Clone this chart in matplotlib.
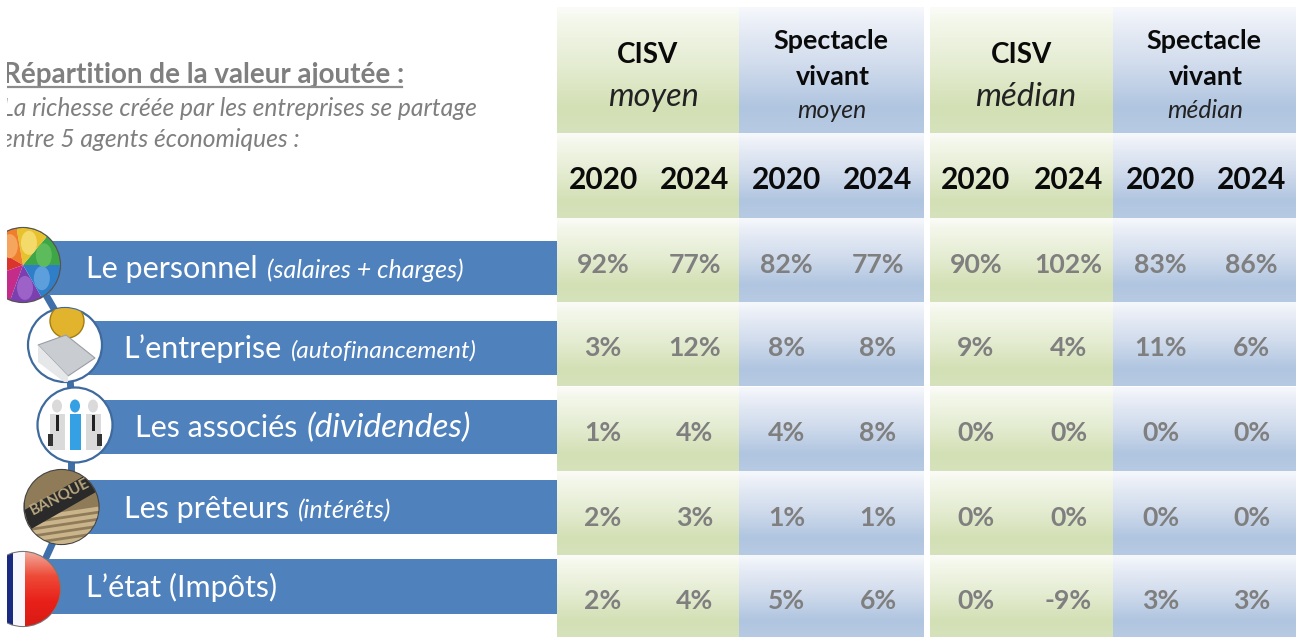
import numpy as np
import matplotlib
matplotlib.use("Agg")
import matplotlib.pyplot as plt
from matplotlib.colors import LinearSegmentedColormap
from matplotlib.patches import Circle, Rectangle, Wedge, Polygon, Ellipse

plt.rcParams['font.family'] = ['Lato', 'DejaVu Sans']

years = ["2020", "2024"]
personnel = ["92%", "77%", "82%", "77%", "90%", "102%", "83%", "86%"]
entreprise = ["3%", "12%", "8%", "8%", "9%", "4%", "11%", "6%"]
associes = ["1%", "4%", "4%", "8%", "0%", "0%", "0%", "0%"]
preteurs = ["2%", "3%", "1%", "1%", "0%", "0%", "0%", "0%"]
etat = ["2%", "4%", "5%", "6%", "0%", "-9%", "3%", "3%"]
rows = [personnel, entreprise, associes, preteurs, etat]
agents = [("Le personnel", "(salaires + charges)"),
          ("L\u2019entreprise", "(autofinancement)"),
          ("Les associés", "(dividendes)"),
          ("Les prêteurs", "(intérêts)"),
          ("L\u2019état (Impôts)", "")]

W, H = 1296, 637
fig = plt.figure(figsize=(W / 100, H / 100), dpi=100, facecolor="white")
ax = fig.add_axes([0, 0, 1, 1])
ax.set_axis_off()
ax.set_xlim(0, W)
ax.set_ylim(H, 0)

GREY, DARK, BLUE = "#7F7F7F", "#0A0A0A", "#4F81BD"
cm_g = LinearSegmentedColormap.from_list("g", [(0, "#FBFCF8"), (.12, "#F3F7EA"), (.5, "#E3EBCF"), (.8, "#D3E0B5"), (1, "#D6E2BB")])
cm_b = LinearSegmentedColormap.from_list("b", [(0, "#F6F8FC"), (.12, "#EBEFF7"), (.5, "#CDD9EB"), (.8, "#B0C5E0"), (1, "#B7CAE3")])
grad = np.linspace(0, 1, 128).reshape(-1, 1)

bands = [(8, 133.5), (134, 218.5), (219, 302.5), (303, 386.5), (387, 471), (471.5, 555), (555.5, 637)]
panels = [(557, 739, cm_g), (739, 924, cm_b), (930, 1113, cm_g), (1113, 1296, cm_b)]
for y0, y1 in bands:
    for x0, x1, cm in panels:
        ax.imshow(grad, cmap=cm, vmin=0, vmax=1, extent=(x0, x1, y1, y0), aspect="auto", zorder=1, interpolation="bilinear")

def T(x, y, s, size, weight="normal", style="normal", color=DARK, ha="center", z=6):
    return ax.text(x, y, s, fontsize=size, fontweight=weight, fontstyle=style, color=color, ha=ha, va="baseline", zorder=z)

for cx, cy, lab in [(648, 63, "CISV"), (1022, 63, "CISV")]:
    T(cx, cy, lab, 20, "bold")
T(653, 106, "moyen", 23.4, style="italic", color="#222222")
T(1026, 106, "médian", 23.8, style="italic", color="#222222")
for cx, lab in [(832, "moyen"), (1205, "médian")]:
    T(cx - 1, 49, "Spectacle", 19.4, "bold")
    T(cx + 1, 85, "vivant", 19.4, "bold")
    T(cx, 117.5, lab, 17.8, style="italic", color="#222222")

col_x = [603, 694.5, 786.5, 878, 976, 1068.5, 1160.5, 1251.5]
for i, cx in enumerate(col_x):
    T(cx, 189, years[i % 2], 21.5, "bold")

row_base = [273, 356, 441, 526, 609]
for base, vals in zip(row_base, rows):
    for cx, v in zip(col_x, vals):
        T(cx, base, v, 19.2, "bold", color=GREY)

T(3, 83, "Répartition de la valeur ajoutée :", 20, "bold", color=GREY, ha="left")
ax.plot([7, 402], [87, 87], color="#8C8C8C", lw=1.6, zorder=6)
T(2, 116, "La richesse créée par les entreprises se partage", 17.7, style="italic", color=GREY, ha="left")
T(1, 147, "entre 5 agents économiques :", 17.7, style="italic", color=GREY, ha="left")

for (xa, ya, xb, yb) in [(46, 295, 57, 314), (70, 378, 71, 392), (71, 458, 71, 476), (54, 540, 44, 562)]:
    ax.plot([xa, xb], [ya, yb], color="#3F6FA8", lw=5, solid_capstyle="butt", zorder=2)

bars = [(241, 295), (320.5, 374.5), (400, 454), (479.5, 534), (559, 614)]
label_x = [86, 123.5, 135, 124, 86]
label_base = [278, 358, 437, 518, 597]
main_size = 22
sub_sizes = [18, 17.6, 24, 18.3, 18]
circle_x = [23, 65, 75, 61.5, 23]
fig.canvas.draw()
rend = fig.canvas.get_renderer()
for (y0, y1), lx, lb, (main, sub), ss, cx in zip(bars, label_x, label_base, agents, sub_sizes, circle_x):
    ax.add_patch(Rectangle((cx, y0), 557 - cx, y1 - y0, fc=BLUE, ec="none", zorder=3))
    m = T(lx, lb, main, main_size, color="white", ha="left")
    if sub:
        ext = m.get_window_extent(rend)
        T(ext.x1 + 9, lb, sub, ss, style="italic", color="white", ha="left")

def disc(cx, cy, r, edge="#3E6A9E"):
    c = Circle((cx, cy), r, fc="white", ec=edge, lw=1.6, zorder=4)
    ax.add_patch(c)
    return c

def clipped(a, c):
    a.set_zorder(5)
    ax.add_patch(a)
    a.set_clip_path(c)

# personnel: colourful crowd
px, py = 23, 265
c = disc(px, py, 37, "#555555")
for a0, a1, col in [(0, 50, "#3FA648"), (50, 100, "#E8C22E"), (100, 150, "#EF7F2A"), (150, 200, "#D9352C"),
                    (200, 250, "#C42C8A"), (250, 300, "#7B3FB0"), (300, 360, "#2F7FC8")]:
    clipped(Wedge((px, py), 37, -a1, -a0, fc=col, ec="none"), c)
for a0, col in [(-25, "#5DBB5C"), (-75, "#F3DA6A"), (-125, "#F5A55E"), (85, "#9C62C8"), (35, "#5C9FDC")]:
    rad = np.deg2rad(a0)
    clipped(Ellipse((px + 23 * np.cos(rad), py + 23 * np.sin(rad)), 16, 24, fc=col, ec="none"), c)

# entreprise: coin and building
qx, qy = 65, 345
c = disc(qx, qy, 37)
clipped(Circle((qx + 2, qy - 24), 17, fc="#E2B32C", ec="#A57C12", lw=1), c)
clipped(Polygon([(qx - 27, qy), (qx + 1, qy - 10), (qx + 30, qy + 13), (qx + 3, qy + 31)], fc="#C9CDD2", ec="#9A9EA4", lw=.8), c)
clipped(Polygon([(qx - 27, qy), (qx + 3, qy + 31), (qx + 3, qy + 40), (qx - 27, qy + 17)], fc="#E6E7E9", ec="none"), c)

# associes: three figures
ax_, ay_ = 75, 425
c = disc(ax_, ay_, 37.5)
for dx, col, w in [(-18, "#DADADA", 15), (18, "#DADADA", 15), (0, "#35A0E4", 11)]:
    clipped(Ellipse((ax_ + dx, 406), 10, 13, fc=col, ec="none"), c)
    clipped(Rectangle((ax_ + dx - w / 2, 414), w, 36, fc=col, ec="none"), c)
for dx in (-18, 18):
    clipped(Rectangle((ax_ + dx - 1.5, 415), 3, 16, fc="#222222", ec="none"), c)
    clipped(Rectangle((ax_ + dx - 9 if dx < 0 else ax_ + dx + 4, 434), 5, 12, fc="#333333", ec="none"), c)

# preteurs: bank sign
bx, by = 61.5, 507
c = disc(bx, by, 37, "#444444")
clipped(Rectangle((bx - 37, by - 37), 74, 74, fc="#8F7B57", ec="none"), c)
for yy in range(515, 548, 7):
    ln, = ax.plot([bx - 32, bx + 35], [yy + 4, yy - 6], color="#C9B48C", lw=3, zorder=5)
    ln.set_clip_path(c)
clipped(Polygon([(bx - 37, 510), (bx + 33, 470), (bx + 38, 490), (bx - 32, 530)], fc="#2A2A2A", ec="none"), c)
ax.text(bx - 2, 497, "BANQUE", fontsize=11, color="#B9A77F", rotation=27, ha="center", va="center",
        rotation_mode="anchor", zorder=6, fontweight="bold")

# etat: flag
fx, fy = 23, 589
c = disc(fx, fy, 37, "#777777")
clipped(Rectangle((-20, 550), 32.5, 78, fc="#1A2A80", ec="none"), c)
clipped(Rectangle((12.5, 550), 12.5, 78, fc="#F8F8FC", ec="none"), c)
cm_r = LinearSegmentedColormap.from_list("r", ["#F2B0A0", "#EE4A38", "#E8201A", "#D81A14"])
im = ax.imshow(grad, cmap=cm_r, vmin=0, vmax=1, extent=(25, 61, 628, 550), aspect="auto", zorder=5)
im.set_clip_path(c)

ax.add_patch(Rectangle((0, 0), 7, H, fc="white", ec="none", zorder=10))

ax.set_xlim(0, W)
ax.set_ylim(H, 0)
fig.savefig("out.png", dpi=100, facecolor="white")
